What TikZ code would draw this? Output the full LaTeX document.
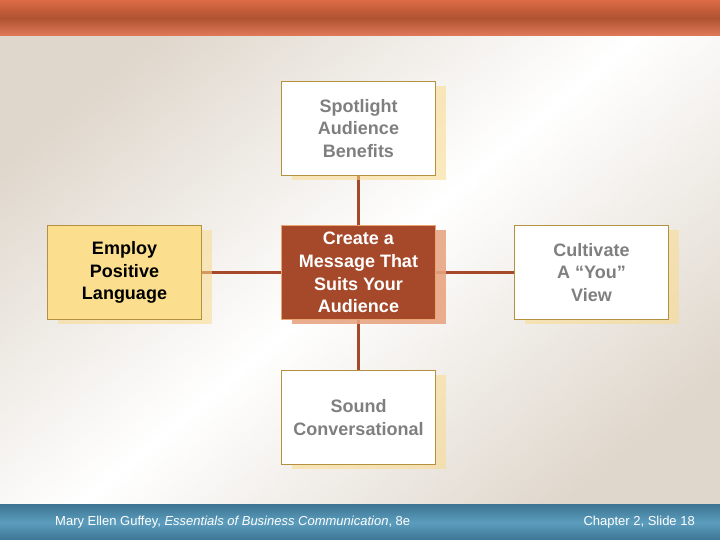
\documentclass[tikz,border=0pt]{standalone}
\usepackage{fontspec}
\setmainfont{Liberation Sans}
\usepackage{xcolor}
\usepackage{tikz}
\usetikzlibrary{positioning, shadows}

\definecolor{barorange}{HTML}{DD6B47}
\definecolor{bardark}{HTML}{AF5230}
\definecolor{footblue}{HTML}{5C9DBD}
\definecolor{footdark}{HTML}{3E7694}
\definecolor{bgbeige}{HTML}{DFD7CC}
\definecolor{rust}{HTML}{A6492B}
\definecolor{goldline}{HTML}{B4913F}
\definecolor{paleyellow}{HTML}{FBDF8E}
\definecolor{shadyellow}{HTML}{FADB8C}
\definecolor{shadsalmon}{HTML}{E49A80}
\definecolor{textgray}{HTML}{7F7F7F}

\pgfdeclarelayer{back}
\pgfdeclarelayer{lines}
\pgfsetlayers{back,lines,main}

\begin{document}
\begin{tikzpicture}[
    x=1pt, y=1pt,
    node distance=49pt,
    box/.style={rectangle, draw=goldline, line width=1pt, minimum width=154pt, minimum height=94pt,
        align=center, font=\fontsize{18}{22.8}\selectfont\bfseries,
        drop shadow={shadow xshift=10pt, shadow yshift=-5pt, fill=shadyellow, opacity=.55}},
    plain/.style={box, fill=white, text=textgray},
    yellow/.style={box, fill=paleyellow, text=black},
    hub/.style={box, fill=rust, draw=rust!40!orange!60, text=white,
        drop shadow={shadow xshift=10pt, shadow yshift=-5pt, fill=shadsalmon, opacity=.75}},
    link/.style={draw=rust, line width=3pt},
    foot/.style={text=white, font=\fontsize{13}{15}\selectfont, inner sep=0pt}
]
\useasboundingbox (0,0) rectangle (720,540);

% Backdrop
\begin{pgfonlayer}{back}
\shade[top color=bgbeige, bottom color=bgbeige, middle color=white, shading angle=40]
    (0,0) rectangle (720,540);
\shade[top color=barorange, bottom color=barorange!90!white, middle color=bardark]
    (0,504) rectangle (720,540);
\shade[top color=footdark, bottom color=footdark, middle color=footblue]
    (0,0) rectangle (720,35);
\end{pgfonlayer}

% Center
\node[hub] (message) at (358.5,267.5) {Create a\\Message That\\Suits Your\\Audience};

% Around it
\node[plain, above=of message] (spotlight) {Spotlight\\Audience\\Benefits};
\node[plain, below=50pt of message] (sound) {Sound\\Conversational};
\node[yellow, left=79pt of message] (employ) {Employ\\Positive\\Language};
\node[plain, right=78pt of message] (cultivate) {Cultivate\\A ``You''\\View};

% Connectors
\begin{pgfonlayer}{lines}
\draw[link] (spotlight) -- (message);
\draw[link] (message) -- (sound);
\draw[link] (employ) -- (message);
\draw[link] (message) -- (cultivate);
\end{pgfonlayer}

% Footer
\node[foot, anchor=west] (credit) at (55,17.5)
    {Mary Ellen Guffey, \textit{Essentials of Business Communication}, 8e};
\node[foot, anchor=east] (slidenum) at (695,17.5) {Chapter 2, Slide 18};

\end{tikzpicture}
\end{document}
